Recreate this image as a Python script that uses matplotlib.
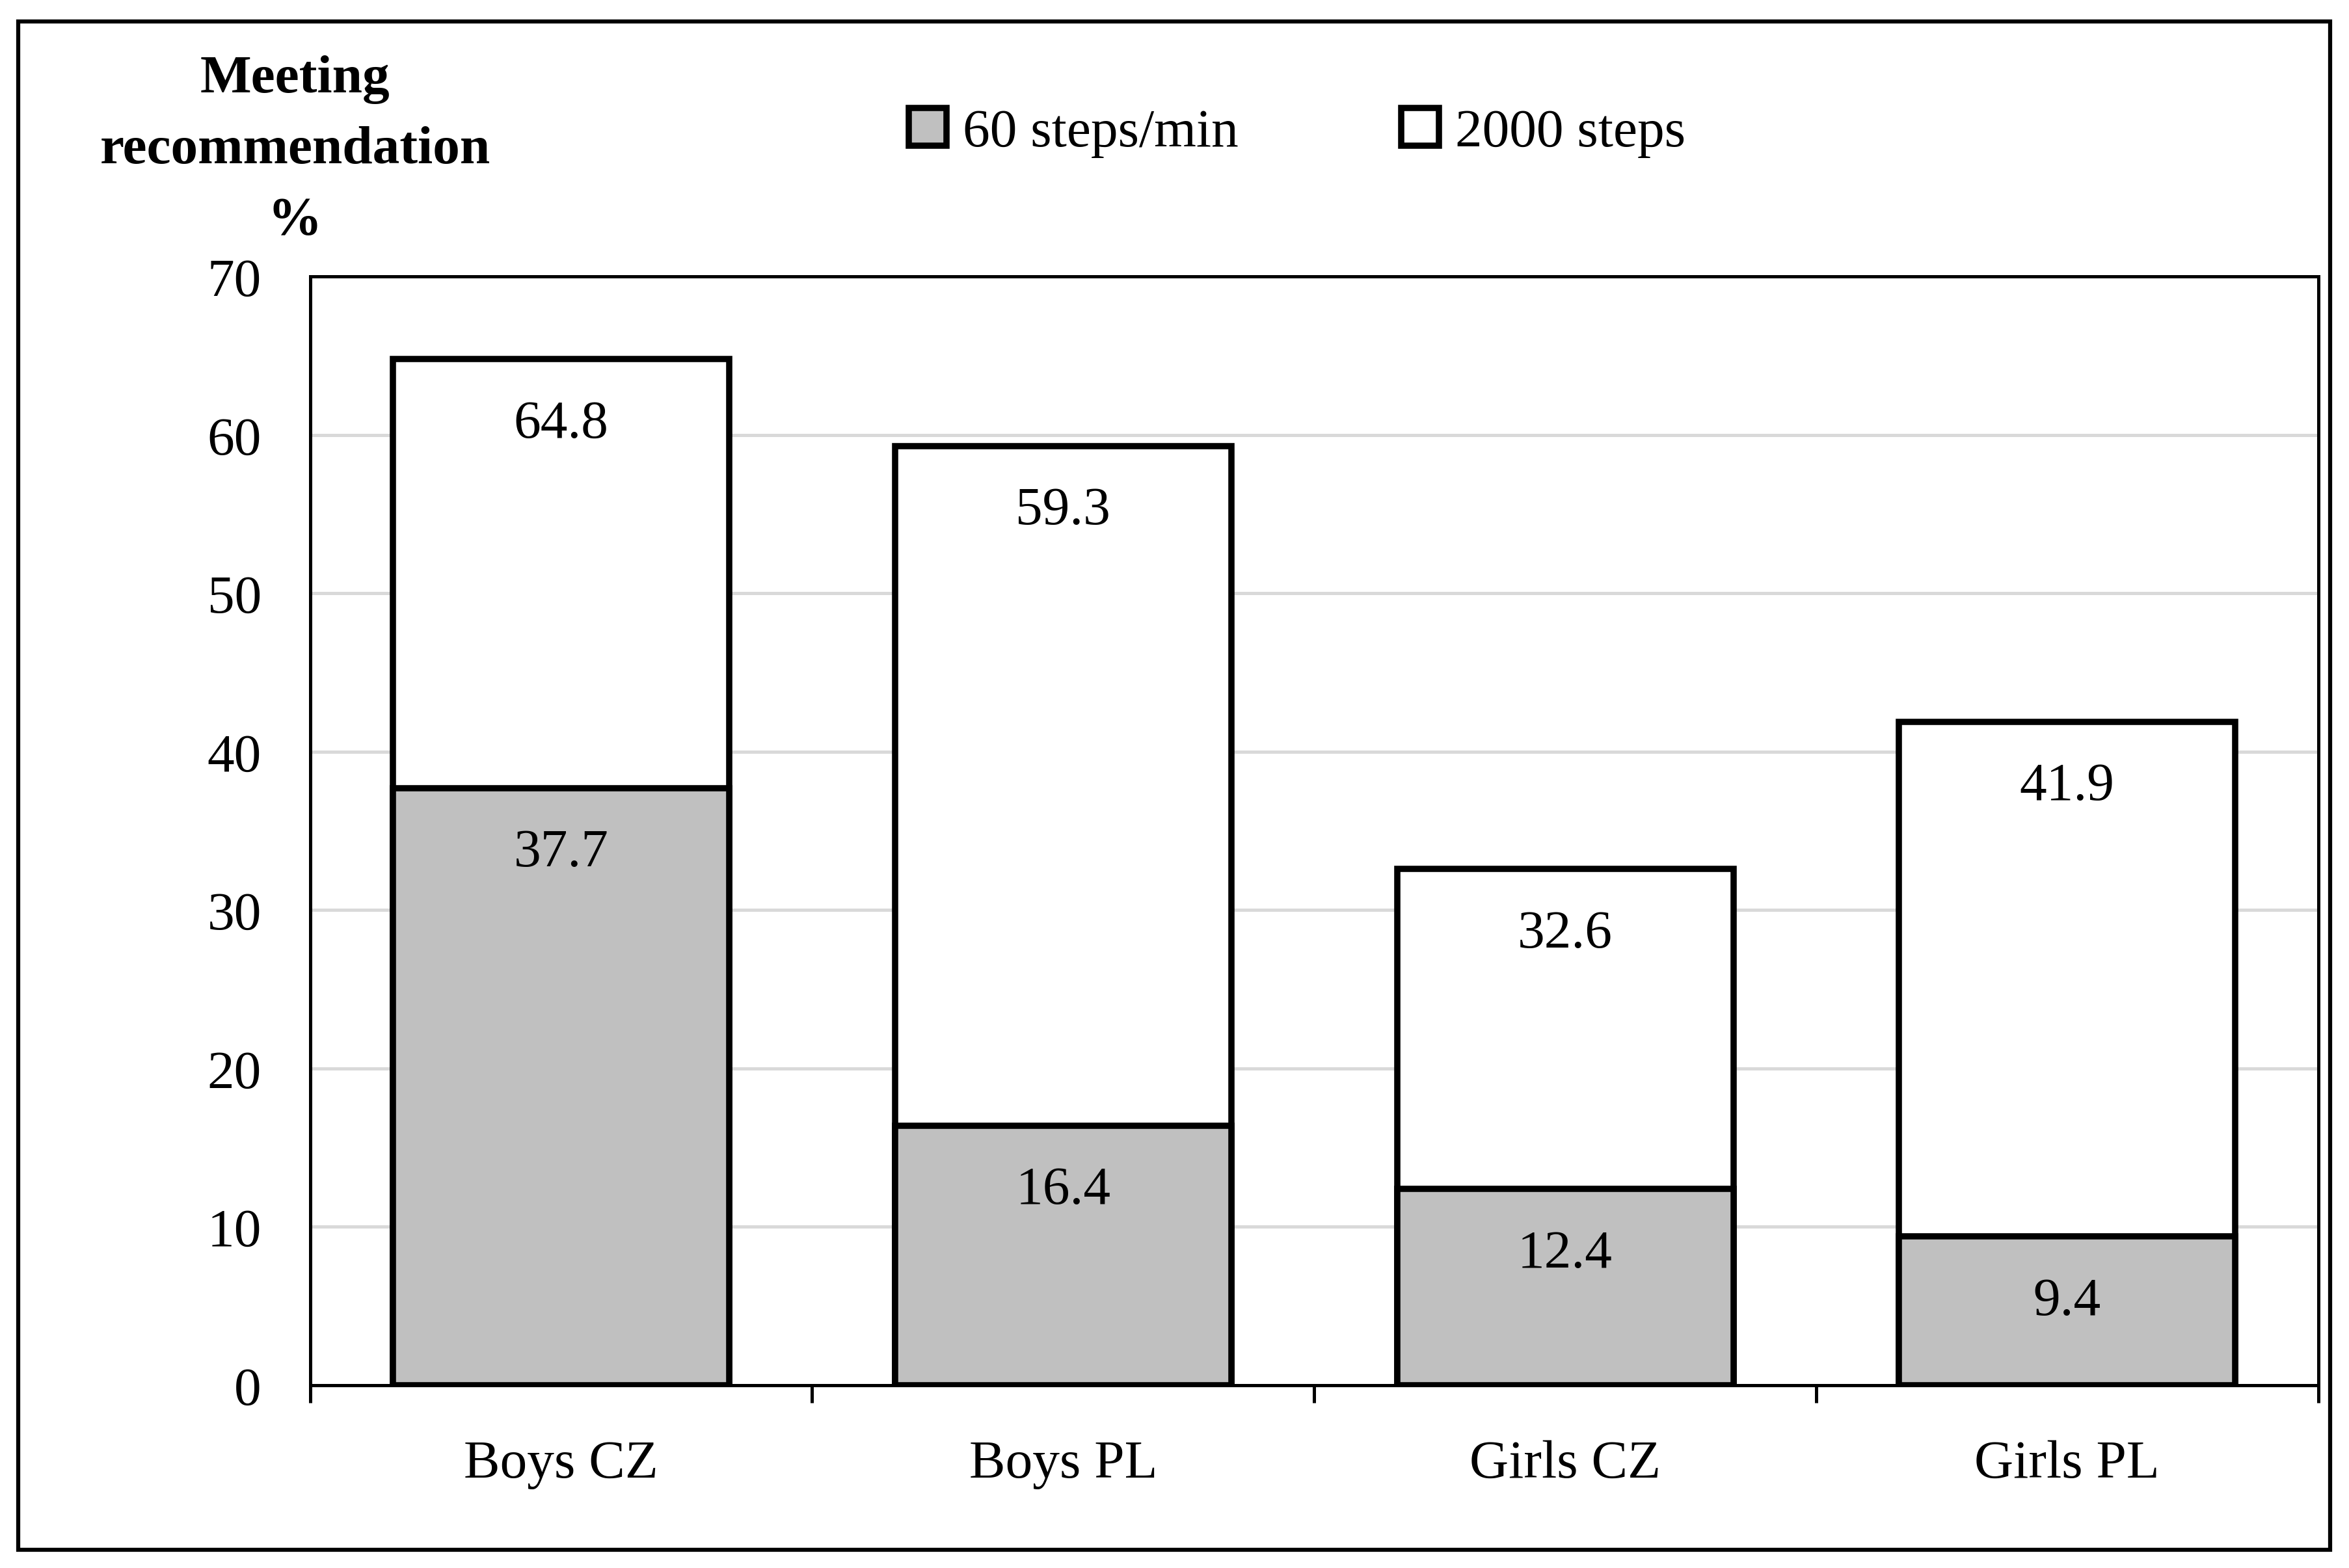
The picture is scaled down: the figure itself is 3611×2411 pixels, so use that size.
import matplotlib.pyplot as plt
import numpy as np
from matplotlib.patches import Rectangle, Patch

plt.rcParams['font.family'] = ['Liberation Serif', 'DejaVu Serif']

# data
groups = ['Boys CZ', 'Boys PL', 'Girls CZ', 'Girls PL']
steps_min = [37.7, 16.4, 12.4, 9.4]      # 60 steps/min
steps_2000 = [64.8, 59.3, 32.6, 41.9]    # 2000 steps

fs = 20

fig = plt.figure(figsize=(12.04, 8.04), dpi=300)
ax = fig.add_axes([0.132, 0.1165, 0.8546, 0.7068])

x = np.arange(len(groups))
w = 0.67
ax.bar(x, steps_2000, w, color='white', edgecolor='black', linewidth=2.3, zorder=2)
ax.bar(x, steps_min, w, color='#c0c0c0', edgecolor='black', linewidth=2.3, zorder=3)

for i in range(len(groups)):
    ax.text(x[i], steps_2000[i] - 4.1, f'{steps_2000[i]:.1f}', ha='center', va='center', fontsize=fs, zorder=4)
    ax.text(x[i], steps_min[i] - 4.1, f'{steps_min[i]:.1f}', ha='center', va='center', fontsize=fs, zorder=4)

ax.set_xlim(-0.5, len(groups) - 0.5)
ax.set_ylim(0, 70)
ax.set_yticks(range(0, 71, 10))
ax.yaxis.grid(True, color='#d9d9d9', linewidth=1.2, zorder=0)
ax.set_axisbelow(True)
ax.set_xticks(x)
ax.set_xticklabels(groups)
ax.set_xticks(np.arange(-0.5, len(groups), 1), minor=True)
ax.tick_params(axis='x', which='major', length=0, pad=20, labelsize=fs)
ax.tick_params(axis='x', which='minor', length=6.5, width=1.2, direction='out')
ax.tick_params(axis='y', length=0, pad=18, labelsize=fs)
for s in ax.spines.values():
    s.set_linewidth(1.2)

fig.text(0.1256, 0.904, 'Meeting\nrecommendation\n%', ha='center', va='center',
         fontsize=fs, fontweight='bold', linespacing=1.6)

handles = [Patch(facecolor='#c0c0c0', edgecolor='black', linewidth=2.3, label='60 steps/min'),
           Patch(facecolor='white', edgecolor='black', linewidth=2.3, label='2000 steps')]
fig.legend(handles=handles, loc='center', bbox_to_anchor=(0.552, 0.915), ncol=2, frameon=False,
           fontsize=fs, handlelength=0.7, handleheight=0.7, handletextpad=0.3, columnspacing=3.0)

fig.patches.append(Rectangle((0.0077, 0.0115), 0.984, 0.9742, transform=fig.transFigure,
                             fill=False, edgecolor='black', linewidth=1.5))

fig.savefig('out.png', dpi=300)
